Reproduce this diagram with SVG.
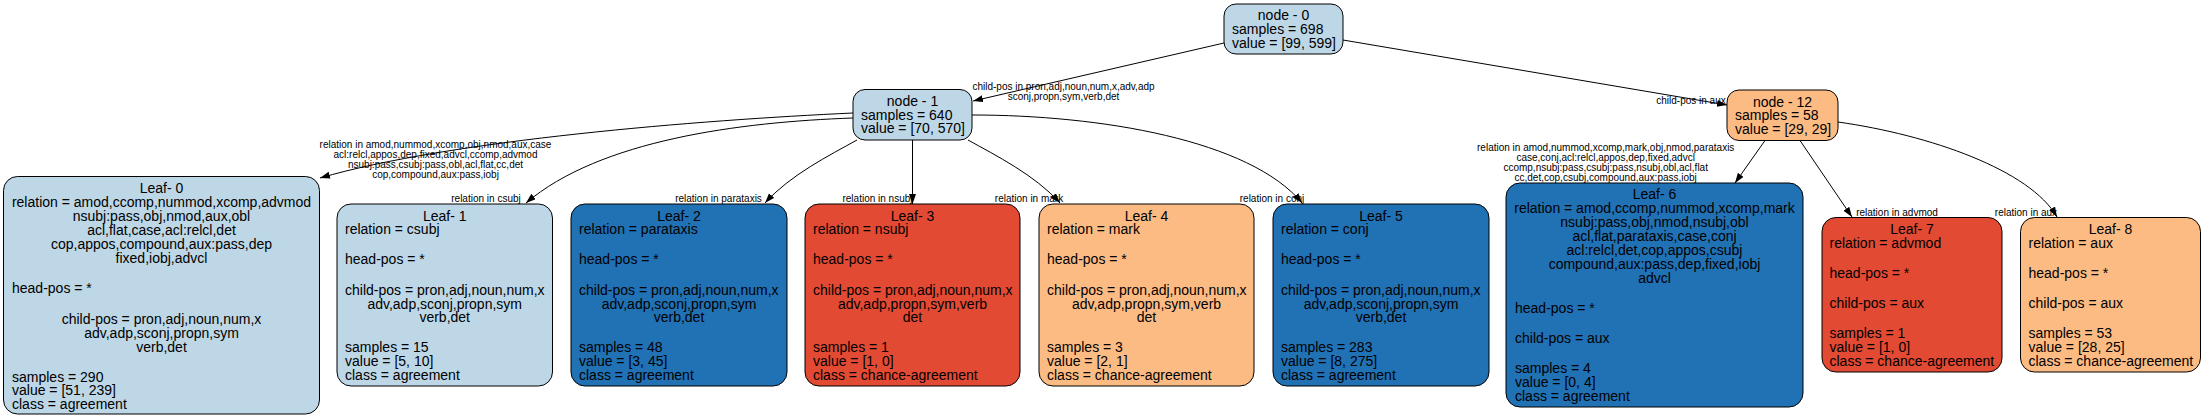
<svg xmlns="http://www.w3.org/2000/svg" width="2205" height="418" viewBox="0 0 2205 418">
<style>
.n{stroke:#000;stroke-width:1}
.lb{fill:#bdd7e7}.db{fill:#2171b5}.rd{fill:#e34a33}.or{fill:#fdbb84}
text{font-family:"Liberation Sans",Arial,Helvetica,sans-serif;fill:#000}
.t{font-size:14px}
.c{text-anchor:middle}
.e{font-size:10px;text-anchor:middle}
.edge{fill:none;stroke:#000;stroke-width:1;marker-end:url(#ah)}
</style>
<defs>
<marker id="ah" markerUnits="userSpaceOnUse" markerWidth="10" markerHeight="8" refX="10" refY="3.5" orient="auto">
<path d="M0,0 L10,3.5 L0,7 z" fill="#000"/>
</marker>
</defs>
<rect width="2205" height="418" fill="#fff"/>
<g id="connectors">
<path class="edge" d="M1224,43 L973,101"/>
<path class="edge" d="M1343,40 L1727,105"/>
<path class="edge" d="M853,113 C700,120 450,140 320,178"/>
<path class="edge" d="M853,118 C740,122 600,140 526,203"/>
<path class="edge" d="M857,140 C830,155 790,175 765,203"/>
<path class="edge" d="M912.5,140 L912.5,204"/>
<path class="edge" d="M968,140 C995,155 1035,175 1060,203"/>
<path class="edge" d="M972,115 C1100,115 1250,140 1302,203"/>
<path class="edge" d="M1765,140.5 L1735,183"/>
<path class="edge" d="M1800,140.5 L1852,217"/>
<path class="edge" d="M1838,122 C1930,135 2030,170 2057,217"/>
<text class="e" x="1063.5" y="89.5">child-pos in pron,adj,noun,num,x,adv,adp</text>
<text class="e" x="1063.5" y="100">sconj,propn,sym,verb,det</text>
<text class="e" x="1691" y="103.5">child-pos in aux</text>
<text class="e" x="435.5" y="147.8">relation in amod,nummod,xcomp,obj,nmod,aux,case</text>
<text class="e" x="435.5" y="157.8">acl:relcl,appos,dep,fixed,advcl,ccomp,advmod</text>
<text class="e" x="435.5" y="167.5">nsubj:pass,csubj:pass,obl,acl,flat,cc,det</text>
<text class="e" x="435.5" y="177.5">cop,compound,aux:pass,iobj</text>
<text class="e" x="486" y="201.8">relation in csubj</text>
<text class="e" x="718.5" y="201.8">relation in parataxis</text>
<text class="e" x="877.5" y="201.8">relation in nsubj</text>
<text class="e" x="1029" y="201.8">relation in mark</text>
<text class="e" x="1272" y="201.8">relation in conj</text>
<text class="e" x="1605.7" y="151.2">relation in amod,nummod,xcomp,mark,obj,nmod,parataxis</text>
<text class="e" x="1605.7" y="161.2">case,conj,acl:relcl,appos,dep,fixed,advcl</text>
<text class="e" x="1605.7" y="171.2">ccomp,nsubj:pass,csubj:pass,nsubj,obl,acl,flat</text>
<text class="e" x="1605.7" y="181.2">cc,det,cop,csubj,compound,aux:pass,iobj</text>
<text class="e" x="1897" y="216.2">relation in advmod</text>
<text class="e" x="2026" y="216.2">relation in aux</text>
</g>
<g id="node0">
<rect class="n lb" x="1224" y="4" width="119" height="50" rx="12"/>
<text class="t c" x="1283.5" y="20">node - 0</text>
<text class="t" x="1232" y="34.3">samples = 698</text>
<text class="t" x="1232" y="48.3">value = [99, 599]</text>
</g>
<g id="node1">
<rect class="n lb" x="853" y="89.5" width="119" height="50.5" rx="12"/>
<text class="t c" x="912.5" y="106">node - 1</text>
<text class="t" x="861" y="119.7">samples = 640</text>
<text class="t" x="861" y="133.4">value = [70, 570]</text>
</g>
<g id="node12">
<rect class="n or" x="1727" y="90" width="111" height="50.5" rx="12"/>
<text class="t c" x="1782.5" y="106.7">node - 12</text>
<text class="t" x="1735" y="120">samples = 58</text>
<text class="t" x="1735" y="134.3">value = [29, 29]</text>
</g>
<g id="leaf0">
<rect class="n lb" x="3.5" y="176.5" width="316" height="237.5" rx="14"/>
<text class="t c" x="161.5" y="192.7">Leaf- 0</text>
<text class="t c" x="161.5" y="206.7">relation = amod,ccomp,nummod,xcomp,advmod</text>
<text class="t c" x="161.5" y="220.7">nsubj:pass,obj,nmod,aux,obl</text>
<text class="t c" x="161.5" y="234.7">acl,flat,case,acl:relcl,det</text>
<text class="t c" x="161.5" y="248.7">cop,appos,compound,aux:pass,dep</text>
<text class="t c" x="161.5" y="262.7">fixed,iobj,advcl</text>
<text class="t" x="12" y="293.3">head-pos = *</text>
<text class="t c" x="161.5" y="324">child-pos = pron,adj,noun,num,x</text>
<text class="t c" x="161.5" y="337.7">adv,adp,sconj,propn,sym</text>
<text class="t c" x="161.5" y="351.7">verb,det</text>
<text class="t" x="12" y="381.7">samples = 290</text>
<text class="t" x="12" y="395">value = [51, 239]</text>
<text class="t" x="12" y="409">class = agreement</text>
</g>
<g id="leaf1">
<rect class="n lb" x="337" y="204" width="215.5" height="182" rx="14"/>
<text class="t c" x="444.7" y="220.7">Leaf- 1</text>
<text class="t" x="345" y="234.3">relation = csubj</text>
<text class="t" x="345" y="264.3">head-pos = *</text>
<text class="t" x="345" y="295">child-pos = pron,adj,noun,num,x</text>
<text class="t c" x="444.7" y="308.7">adv,adp,sconj,propn,sym</text>
<text class="t c" x="444.7" y="322.3">verb,det</text>
<text class="t" x="345" y="352.3">samples = 15</text>
<text class="t" x="345" y="366">value = [5, 10]</text>
<text class="t" x="345" y="380">class = agreement</text>
</g>
<g id="leaf2">
<rect class="n db" x="571" y="204" width="216" height="182" rx="14"/>
<text class="t c" x="679" y="220.7">Leaf- 2</text>
<text class="t" x="579" y="234.3">relation = parataxis</text>
<text class="t" x="579" y="264.3">head-pos = *</text>
<text class="t" x="579" y="295">child-pos = pron,adj,noun,num,x</text>
<text class="t c" x="679" y="308.7">adv,adp,sconj,propn,sym</text>
<text class="t c" x="679" y="322.3">verb,det</text>
<text class="t" x="579" y="352.3">samples = 48</text>
<text class="t" x="579" y="366">value = [3, 45]</text>
<text class="t" x="579" y="380">class = agreement</text>
</g>
<g id="leaf3">
<rect class="n rd" x="805" y="204" width="215" height="182" rx="14"/>
<text class="t c" x="912.5" y="220.7">Leaf- 3</text>
<text class="t" x="813" y="234.3">relation = nsubj</text>
<text class="t" x="813" y="264.3">head-pos = *</text>
<text class="t" x="813" y="295">child-pos = pron,adj,noun,num,x</text>
<text class="t c" x="912.5" y="308.7">adv,adp,propn,sym,verb</text>
<text class="t c" x="912.5" y="322.3">det</text>
<text class="t" x="813" y="352.3">samples = 1</text>
<text class="t" x="813" y="366">value = [1, 0]</text>
<text class="t" x="813" y="380">class = chance-agreement</text>
</g>
<g id="leaf4">
<rect class="n or" x="1039" y="204" width="215" height="182" rx="14"/>
<text class="t c" x="1146.5" y="220.7">Leaf- 4</text>
<text class="t" x="1047" y="234.3">relation = mark</text>
<text class="t" x="1047" y="264.3">head-pos = *</text>
<text class="t" x="1047" y="295">child-pos = pron,adj,noun,num,x</text>
<text class="t c" x="1146.5" y="308.7">adv,adp,propn,sym,verb</text>
<text class="t c" x="1146.5" y="322.3">det</text>
<text class="t" x="1047" y="352.3">samples = 3</text>
<text class="t" x="1047" y="366">value = [2, 1]</text>
<text class="t" x="1047" y="380">class = chance-agreement</text>
</g>
<g id="leaf5">
<rect class="n db" x="1273" y="204" width="216" height="182" rx="14"/>
<text class="t c" x="1381" y="220.7">Leaf- 5</text>
<text class="t" x="1281" y="234.3">relation = conj</text>
<text class="t" x="1281" y="264.3">head-pos = *</text>
<text class="t" x="1281" y="295">child-pos = pron,adj,noun,num,x</text>
<text class="t c" x="1381" y="308.7">adv,adp,sconj,propn,sym</text>
<text class="t c" x="1381" y="322.3">verb,det</text>
<text class="t" x="1281" y="352.3">samples = 283</text>
<text class="t" x="1281" y="366">value = [8, 275]</text>
<text class="t" x="1281" y="380">class = agreement</text>
</g>
<g id="leaf6">
<rect class="n db" x="1506" y="183" width="297" height="224" rx="14"/>
<text class="t c" x="1654.5" y="199.3">Leaf- 6</text>
<text class="t c" x="1654.5" y="213.3">relation = amod,ccomp,nummod,xcomp,mark</text>
<text class="t c" x="1654.5" y="227.3">nsubj:pass,obj,nmod,nsubj,obl</text>
<text class="t c" x="1654.5" y="241.3">acl,flat,parataxis,case,conj</text>
<text class="t c" x="1654.5" y="255.3">acl:relcl,det,cop,appos,csubj</text>
<text class="t c" x="1654.5" y="269.3">compound,aux:pass,dep,fixed,iobj</text>
<text class="t c" x="1654.5" y="283.3">advcl</text>
<text class="t" x="1515" y="312.7">head-pos = *</text>
<text class="t" x="1515" y="343.3">child-pos = aux</text>
<text class="t" x="1515" y="373.3">samples = 4</text>
<text class="t" x="1515" y="387.3">value = [0, 4]</text>
<text class="t" x="1515" y="401.3">class = agreement</text>
</g>
<g id="leaf7">
<rect class="n rd" x="1822" y="217.5" width="180" height="154.5" rx="14"/>
<text class="t c" x="1912" y="234.3">Leaf- 7</text>
<text class="t" x="1829.5" y="248.3">relation = advmod</text>
<text class="t" x="1829.5" y="277.7">head-pos = *</text>
<text class="t" x="1829.5" y="307.7">child-pos = aux</text>
<text class="t" x="1829.5" y="338.3">samples = 1</text>
<text class="t" x="1829.5" y="351.7">value = [1, 0]</text>
<text class="t" x="1829.5" y="366">class = chance-agreement</text>
</g>
<g id="leaf8">
<rect class="n or" x="2020.5" y="217.5" width="180" height="154.5" rx="14"/>
<text class="t c" x="2110.5" y="234.3">Leaf- 8</text>
<text class="t" x="2028.5" y="248.3">relation = aux</text>
<text class="t" x="2028.5" y="277.7">head-pos = *</text>
<text class="t" x="2028.5" y="307.7">child-pos = aux</text>
<text class="t" x="2028.5" y="338.3">samples = 53</text>
<text class="t" x="2028.5" y="351.7">value = [28, 25]</text>
<text class="t" x="2028.5" y="366">class = chance-agreement</text>
</g>
</svg>
